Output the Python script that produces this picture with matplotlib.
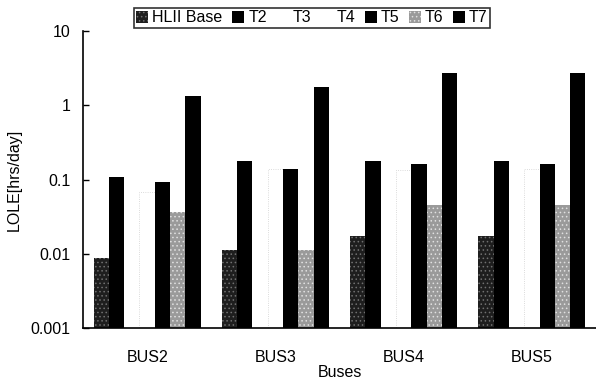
import matplotlib
matplotlib.use("Agg")
import matplotlib.pyplot as plt
from matplotlib.patches import Patch
import numpy as np

plt.rcParams['font.family'] = ['Liberation Sans', 'DejaVu Sans']
plt.rcParams['hatch.linewidth'] = 0.6

buses = ["BUS2", "BUS3", "BUS4", "BUS5"]
series = ["HLII Base", "T2", "T3", "T4", "T5", "T6", "T7"]
hlii_base = [0.0078, 0.0103, 0.0166, 0.0161]
t2 = [0.107, 0.174, 0.179, 0.179]
t3 = [0.066, 0.138, 0.135, 0.138]
t4 = [0.066, 0.138, 0.135, 0.138]
t5 = [0.092, 0.137, 0.162, 0.161]
t6 = [0.036, 0.0104, 0.0444, 0.0444]
t7 = [1.33, 1.78, 2.75, 2.75]
values = [hlii_base, t2, t3, t4, t5, t6, t7]

styles = [
    dict(facecolor='#1e1e1e', edgecolor='#707070', hatch='....', linewidth=0),
    dict(facecolor='black', edgecolor='black', linewidth=0),
    dict(facecolor='white', edgecolor='white', linewidth=0),
    dict(facecolor='white', edgecolor='#cfcfcf', linewidth=0.6, linestyle=':'),
    dict(facecolor='black', edgecolor='black', linewidth=0),
    dict(facecolor='#9a9a9a', edgecolor='#e0e0e0', hatch='....', linewidth=0),
    dict(facecolor='black', edgecolor='black', linewidth=0),
]

fig = plt.figure(figsize=(5.96, 3.80), dpi=100)
ax = fig.add_axes([83/596, 1-328/380, 1-83/596, (328-31)/380])

x = np.arange(len(buses))
w = 0.119
for i, (name, vals) in enumerate(zip(series, values)):
    ax.bar(x + (i-3)*w, vals, width=w, bottom=0.001, label=name, **styles[i])

ax.set_yscale('log')
ax.set_ylim(0.001, 10)
ax.set_xlim(-0.5, 3.5)
ax.set_yticks([0.001, 0.01, 0.1, 1, 10])
ax.set_yticklabels(["0.001", "0.01", "0.1", "1", "10"])
ax.yaxis.set_minor_locator(matplotlib.ticker.NullLocator())
ax.set_xticks(x)
ax.set_xticklabels(buses)
ax.tick_params(axis='y', direction='in', length=4, width=1, labelsize=11.5, pad=9)
ax.tick_params(axis='x', length=0, labelsize=11.5, pad=16)
for s in ['top', 'right']:
    ax.spines[s].set_visible(False)
ax.spines['left'].set_linewidth(1.2)
ax.spines['bottom'].set_linewidth(1.2)

ax.set_ylabel("LOLE[hrs/day]", fontsize=11.5, labelpad=6)
ax.set_xlabel("Buses", fontsize=11.5)
ax.xaxis.set_label_coords(0.5, (328-365)/297)

handles = []
for i, name in enumerate(series):
    st = dict(styles[i])
    if name in ("T3", "T4"):
        st = dict(facecolor='white', edgecolor='white', linewidth=0)
    handles.append(Patch(label=name, **st))

leg = fig.legend(handles=handles, loc='upper center', bbox_to_anchor=(312/596, 1-8/380), ncol=7,
                 fontsize=11.5, frameon=True, fancybox=False, edgecolor='black',
                 handlelength=0.75, handleheight=0.75, handletextpad=0.25,
                 columnspacing=0.6, borderpad=0.15, borderaxespad=0)
leg.get_frame().set_linewidth(1.2)

fig.savefig("out.png", dpi=100)
